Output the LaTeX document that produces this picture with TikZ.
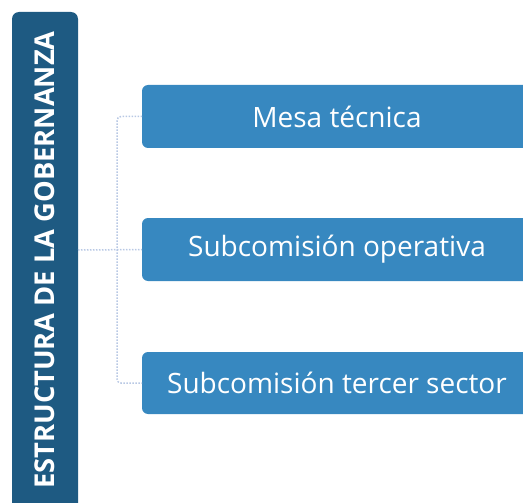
\documentclass[tikz,border=0pt]{standalone}
\usepackage{fontspec}
\setmainfont{Open Sans}
\definecolor{barblue}{HTML}{1E5A82}
\definecolor{boxblue}{HTML}{3788C0}
\definecolor{linkgray}{HTML}{B8C8E4}
\begin{document}
\begin{tikzpicture}[x=1pt,y=-1pt,
  boxtext/.style={text=white,font=\fontsize{28}{31}\selectfont,anchor=center},
  link/.style={draw=linkgray,line width=1.5pt,dash pattern=on 1.5pt off 1.5pt,rounded corners=4pt}]
\useasboundingbox (0,0) rectangle (523,503);
% left bar
\fill[barblue,rounded corners=7pt] (12,520) -- (12,12) -- (78,12) -- (78,520) -- cycle;
\node[text=white,rotate=90,font=\bfseries\fontsize{27.3}{30}\selectfont] (bar) at (45,260) {ESTRUCTURA DE LA GOBERNANZA};
\coordinate (barR) at (78,250);
% boxes
\foreach \n/\yt/\yb in {b1/85/148,b2/218/281,b3/352/414}{
  \fill[boxblue,rounded corners=6pt] (540,\yt) -- (142,\yt) -- (142,\yb) -- (540,\yb) -- cycle;
  \coordinate (\n) at (142,{(\yt+\yb)/2});
}
\node[boxtext] (t1) at (337,116.5) {Mesa técnica};
\node[boxtext] (t2) at (337,249.5) {Subcomisión operativa};
\node[boxtext] (t3) at (337,383) {Subcomisión tercer sector};
% connectors
\draw[link] (barR) -- (b2);
\draw[link] (b1) -| (117,250) |- (b3);
\end{tikzpicture}
\end{document}
